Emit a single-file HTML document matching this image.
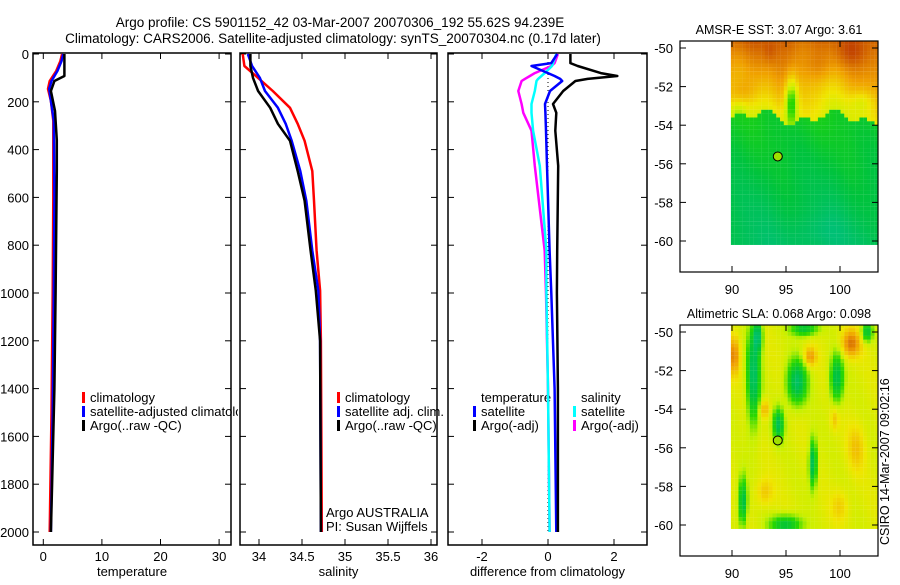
<!DOCTYPE html>
<html><head><meta charset="utf-8"><style>
body{margin:0;background:#fff;}
svg text{font-family:"Liberation Sans",sans-serif;fill:#000;}
</style></head><body>
<svg id="fig" width="900" height="580" viewBox="0 0 900 580" xmlns="http://www.w3.org/2000/svg">
<defs>
<clipPath id="c1"><rect x="33" y="53" width="205" height="492"/></clipPath>
<clipPath id="cm1"><rect x="680" y="41" width="198" height="231"/></clipPath>
<clipPath id="cm2"><rect x="680" y="325" width="198" height="231"/></clipPath>
</defs>
<text x="340" y="27" font-size="13.5" text-anchor="middle">Argo profile: CS 5901152_42 03-Mar-2007 20070306_192 55.62S 94.239E</text>
<text x="333" y="43" font-size="13.5" text-anchor="middle">Climatology: CARS2006. Satellite-adjusted climatology: synTS_20070304.nc (0.17d later)</text>
<g id="axes"></g>
<g id="series"></g>
<g id="maps"></g>
<text transform="translate(889,545) rotate(-90)" font-size="12.5">CSIRO 14-Mar-2007 09:02:16</text>
</svg>
<script>
// ---- data ----
const tempDepth=[0,38,92,113,155,238,360,490,1000,1400,1800,2000];
const tempArgo=[3.6,3.6,3.6,1.9,1.3,2.0,2.3,2.3,2.1,1.9,1.5,1.3];
const climDepth=[0,30,71,113,146,196,280,600,1000,1500,2000];
const tempClim=[3.2,2.9,2.2,1.1,0.8,1.3,1.7,1.7,1.6,1.4,1.1];
const tempSat=[3.4,3.1,2.4,1.4,1.0,1.3,1.8,1.9,1.8,1.6,1.3];
const salDepth=[0,50,100,155,225,292,363,490,614,823,990,1200,2000];
const salArgo=[33.90,33.90,33.93,33.99,34.13,34.22,34.36,34.45,34.53,34.60,34.66,34.71,34.72];
const salClim=[33.81,33.83,33.99,34.16,34.36,34.45,34.53,34.62,34.64,34.67,34.71,34.72,34.73];
const salSat=[33.87,33.92,34.01,34.07,34.22,34.31,34.38,34.48,34.55,34.62,34.69,34.71,34.72];
const diffDepth=[0,38,50,80,92,104,113,155,209,246,321,468,823,1000,1400,2000];
const diffTempArgo=[0.68,0.68,0.9,1.6,2.1,1.2,0.83,0.46,0.15,0.25,0.22,0.31,0.28,0.27,0.3,0.3];
const diffTempSat=[0.28,0.1,-0.5,0.0,0.2,0.37,0.43,0.06,-0.09,-0.08,-0.06,-0.03,0.05,0.1,0.2,0.25];
const diffSalSat=[0.25,0.15,0.12,-0.1,-0.2,-0.3,-0.35,-0.4,-0.5,-0.5,-0.45,-0.25,-0.05,-0.05,0.0,0.05];
const diffSalArgo=[0.3,0.2,0.1,-0.4,-0.55,-0.7,-0.8,-0.9,-0.8,-0.75,-0.5,-0.4,-0.1,-0.06,0.0,0.05];
const depthTicks=[0,200,400,600,800,1000,1200,1400,1600,1800,2000];
const tempTicks=[0,10,20,30];
const salTicks=[34,34.5,35,35.5,36];
const salTickLabels=["34","34.5","35","35.5","36"];
const diffTicks=[-2,0,2];
const lonTicks=[90,95,100];
const latTicks=[-50,-52,-54,-56,-58,-60];
const floatLon=94.239, floatLat=-55.62;

const NS="http://www.w3.org/2000/svg";
function mk(tag,attrs,parent,txt){const e=document.createElementNS(NS,tag);for(const k in attrs)e.setAttribute(k,attrs[k]);if(txt!==undefined)e.textContent=txt;parent.appendChild(e);return e;}
const axes=document.getElementById('axes'), ser=document.getElementById('series'), maps=document.getElementById('maps');
const Y=d=>54+d*(532-54)/2000;
const panels=[
 {x0:33,x1:231,sx:v=>43.3+v*5.86,ticks:tempTicks,labels:tempTicks.map(String),title:"temperature",name:"temperature"},
 {x0:240,x1:437,sx:v=>259+(v-34)*86,ticks:salTicks,labels:salTickLabels,title:"salinity",name:"salinity"},
 {x0:448,x1:647,sx:v=>548+v*33,ticks:diffTicks,labels:diffTicks.map(String),title:"difference from climatology",name:"difference"}
];
panels.forEach((p,i)=>{
 const g=mk('g',{},axes);
 
 
 const r=mk('rect',{x:p.x0,y:53,width:p.x1-p.x0,height:492,fill:'none',stroke:'#000','stroke-width':1.5},g);
 
 
 p.ticks.forEach((t,j)=>{const x=p.sx(t);
  mk('line',{x1:x,x2:x,y1:545,y2:539,stroke:'#000'},g);mk('line',{x1:x,x2:x,y1:53,y2:59,stroke:'#000'},g);
  const tl=mk('text',{x:x,y:561,'font-size':13,'text-anchor':'middle'},g,p.labels[j]);
  
  });
 depthTicks.forEach(d=>{const y=Y(d);
  mk('line',{x1:p.x0,x2:p.x0+6,y1:y,y2:y,stroke:'#000'},g);mk('line',{x1:p.x1,x2:p.x1-6,y1:y,y2:y,stroke:'#000'},g);
  if(i===0){const tl=mk('text',{x:29,y:y+5,'font-size':13,'text-anchor':'end'},g,String(d));
   
   }});
 const at=mk('text',{x:(p.x0+p.x1)/2,y:576,'font-size':13,'text-anchor':'middle'},g,p.title);
 
 
});
function line(depths,vals,sx,color,w,name,dash){
 const pts=depths.map((d,i)=>sx(vals[i]).toFixed(1)+','+Y(d).toFixed(1)).join(' ');
 const e=mk('polyline',{points:pts,fill:'none',stroke:color,'stroke-width':w,'stroke-linejoin':'round'},ser);
 if(dash)e.setAttribute('stroke-dasharray',dash);
 
 
}
const P=panels;
line(climDepth,tempClim,P[0].sx,'#f00',2.5,'temp-climatology-line');
line(climDepth,tempSat,P[0].sx,'#00f',2.5,'temp-satellite-line');
line(tempDepth,tempArgo,P[0].sx,'#000',2.5,'temp-argo-line');
line(salDepth,salClim,P[1].sx,'#f00',2.5,'sal-climatology-line');
line(salDepth,salSat,P[1].sx,'#00f',2.5,'sal-satellite-line');
line(salDepth,salArgo,P[1].sx,'#000',2.5,'sal-argo-line');
const z=mk('line',{x1:548,x2:548,y1:Y(0),y2:Y(2000),stroke:'#000','stroke-dasharray':'1 3'},ser);


line(diffDepth,diffSalArgo,P[2].sx,'#f0f',2.5,'diff-sal-argo-line');
line(diffDepth,diffSalSat,P[2].sx,'#0ff',2.5,'diff-sal-satellite-line');
line(diffDepth,diffTempSat,P[2].sx,'#00f',2.5,'diff-temp-satellite-line');
line(diffDepth,diffTempArgo,P[2].sx,'#000',2.5,'diff-temp-argo-line');

function legend(x,y,color,label,name,clip){
 const g=mk('g',clip?{'clip-path':clip}:{},axes);
 
 
 if(color)mk('rect',{x:x,y:y-10,width:3,height:11,fill:color},g);
 mk('text',{x:x+8,y:y,'font-size':13},g,label);
}
legend(82,402,'#f00','climatology','legend-climatology');
legend(82,416,'#00f','satellite-adjusted climatology','legend-satellite-adjusted','url(#c1)');
legend(82,430,'#000','Argo(..raw -QC)','legend-argo');
legend(337,402,'#f00','climatology','legend-sal-climatology');
legend(337,416,'#00f','satellite adj. clim.','legend-sal-satellite');
legend(337,430,'#000','Argo(..raw -QC)','legend-sal-argo');
legend(318,517,null,'Argo AUSTRALIA','argo-australia-label');
legend(318,531,null,'PI: Susan Wijffels','pi-label');
legend(473,402,null,'temperature','legend-temperature-header');
legend(473,416,'#00f','satellite','legend-diff-temp-satellite');
legend(473,430,'#000','Argo(-adj)','legend-diff-temp-argo');
legend(573,402,null,'salinity','legend-salinity-header');
legend(573,416,'#0ff','satellite','legend-diff-sal-satellite');
legend(573,430,'#f0f','Argo(-adj)','legend-diff-sal-argo');

// ---- maps ----
function cmap(t){t=Math.max(0,Math.min(1,t));
 const s=[[0,[0,190,150]],[0.25,[0,195,60]],[0.42,[40,215,0]],[0.55,[200,240,0]],[0.65,[240,230,0]],[0.8,[240,160,0]],[1,[190,60,0]]];
 for(let i=1;i<s.length;i++)if(t<=s[i][0]){const a=s[i-1],b=s[i],f=(t-a[0])/(b[0]-a[0]);return 'rgb('+a[1].map((v,k)=>Math.round(v+(b[1][k]-v)*f)).join(',')+')';}
}
function gauss(lon,lat,c){const dx=(lon-c[0])/c[2],dy=(lat-c[1])/c[3];return c[4]*Math.exp(-(dx*dx+dy*dy));}
const sstField=(lon,lat)=>{const b=-53.6+0.3*Math.sin(lon*0.9)+0.2*Math.sin(lon*2.1);
 let t;
 if(lat>b){t=0.62+(lat-b)*0.075+0.04*Math.sin(lon*0.8+lat*0.7);
  t+=gauss(lon,lat,[91,-52.3,1.2,0.8,0.1])+gauss(lon,lat,[98,-51,1.5,0.8,0.06])+gauss(lon,lat,[101,-50.3,1.5,0.6,0.06])+gauss(lon,lat,[93.5,-50.2,0.6,0.6,0.06]);
  t-=gauss(lon,lat,[95.5,-52.8,0.6,1.3,0.35])+gauss(lon,lat,[102,-52.8,1.2,0.6,0.1])+gauss(lon,lat,[90.5,-53.3,0.8,0.5,0.1]);}
 else{t=0.32-(b-lat)*0.025+0.03*Math.sin(lon*0.9+lat*0.8);t-=gauss(lon,lat,[98,-59.5,2.5,1,0.06]);}
 return t;};
const slaBlobs=[[92,-52.3,0.6,2.4,-0.45],[92.4,-50.2,0.4,0.8,-0.4],[96,-52.6,0.9,1.1,-0.45],[99.7,-52.4,0.6,1.2,-0.4],[94.3,-54.8,0.5,0.8,-0.4],[97.5,-56.8,0.35,1.2,-0.45],[91,-58.8,0.4,1.2,-0.4],[95,-60,1.4,0.5,-0.35],[96.7,-49.8,1.2,0.4,-0.35],[102.5,-50,0.5,0.5,-0.35],[90.2,-51.2,0.5,1,0.25],[101,-50.6,0.9,0.7,0.28],[97.2,-51.3,0.6,0.5,0.22],[93,-54,0.5,0.5,0.18],[101.5,-56,0.8,1.2,0.12],[93,-58.3,0.8,0.7,0.12],[99.5,-54.5,0.4,0.6,0.12],[100,-59,0.8,0.8,0.1]];
const slaField=(lon,lat)=>{let t=0.6+0.02*Math.sin(lon*1.5+lat);slaBlobs.forEach(c=>t+=gauss(lon,lat,c));return t;};
function drawMap(top,field,title,name,clip){
 const g=mk('g',{},maps);
 
 
 const lx=lon=>732+(lon-90)*10.8, ly=lat=>top+7+(-50-lat)*19.3;
 const img=mk('g',{'clip-path':clip},g);
 
 
 for(let lon=89.9;lon<103.6;lon+=0.35)for(let lat=-49.6;lat>-60.1;lat-=0.2){
  mk('rect',{x:lx(lon).toFixed(1),y:ly(lat).toFixed(1),width:3.9,height:3.95,fill:cmap(field(lon+0.17,lat-0.1))},img);}
 mk('rect',{x:680,y:top,width:198,height:231,fill:'none',stroke:'#000','stroke-width':1.2},g);
 lonTicks.forEach(v=>{const x=lx(v);mk('line',{x1:x,x2:x,y1:top+231,y2:top+225,stroke:'#000'},g);mk('line',{x1:x,x2:x,y1:top,y2:top+6,stroke:'#000'},g);
  const t=mk('text',{x:x,y:top+253,'font-size':13,'text-anchor':'middle'},g,String(v));
  
  });
 latTicks.forEach(v=>{const y=ly(v);mk('line',{x1:680,x2:686,y1:y,y2:y,stroke:'#000'},g);mk('line',{x1:878,x2:872,y1:y,y2:y,stroke:'#000'},g);
  const t=mk('text',{x:673,y:y+5,'font-size':13,'text-anchor':'end'},g,String(v));
  
  });
 const m=mk('circle',{cx:lx(floatLon),cy:ly(floatLat),r:4.5,fill:'#a0e000',stroke:'#000','stroke-width':1},g);
 
 
 const tt=mk('text',{x:779,y:top-7,'font-size':12.5,'text-anchor':'middle'},g,title);
 
 
}
drawMap(41,sstField,'AMSR-E SST: 3.07 Argo: 3.61','sst-map','url(#cm1)');
drawMap(325,slaField,'Altimetric SLA: 0.068 Argo: 0.098','sla-map','url(#cm2)');
</script>
</body></html>
